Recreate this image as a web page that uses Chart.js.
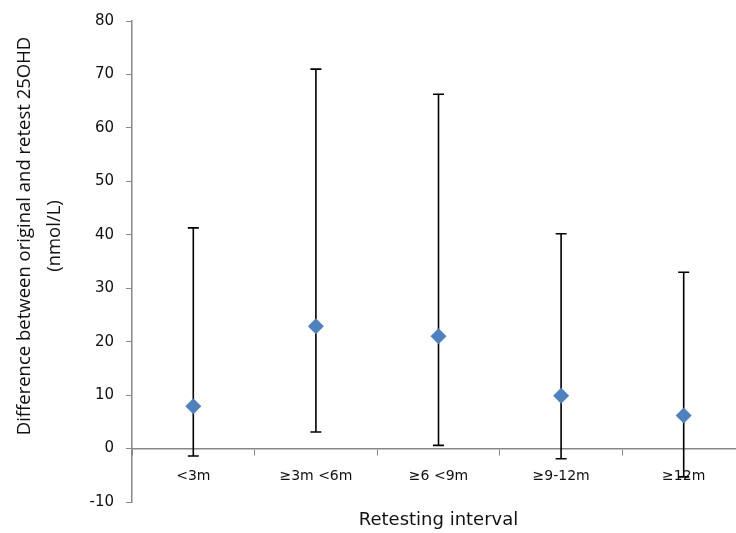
<!DOCTYPE html>
<html>
<head>
<meta charset="utf-8">
<script src="https://cdn.jsdelivr.net/npm/chart.js@4.4.0/dist/chart.umd.min.js"></script>
<style>
  html, body { margin: 0; padding: 0; background: #fff; overflow: hidden; }
  #contenedor { width: 760px; height: 533px; }
</style>
</head>
<body>
<div id="contenedor"><canvas id="grafico" width="760" height="533"></canvas></div>
<script>
const intervalos = ['<3m', '≥3m <6m', '≥6 <9m', '≥9-12m', '≥12m'];
const diferencias = [7.9, 22.9, 21.0, 9.9, 6.2];
const limiteSuperior = [41.3, 71.0, 66.3, 40.2, 33.0];
const limiteInferior = [-1.4, 3.1, 0.6, -1.9, -5.3];
const ejeYMin = -10;
const ejeYMax = 80;
const ejeYPaso = 10;
const tituloY = ['Difference between original and retest 25OHD', '(nmol/L)'];
const tituloX = 'Retesting interval';

// dibuja las barras de error con las escalas del grafico
const barrasError = {
    id: 'barrasError',
    beforeDatasetsDraw(chart) {
        const ctx = chart.ctx;
        const x = chart.scales.x;
        const y = chart.scales.y;
        ctx.save();
        ctx.strokeStyle = '#000';
        ctx.lineWidth = 1.6;
        for (let i = 0; i < intervalos.length; i++) {
            const px = x.getPixelForValue(i);
            const arriba = y.getPixelForValue(limiteSuperior[i]);
            const abajo = y.getPixelForValue(limiteInferior[i]);
            ctx.beginPath();
            ctx.moveTo(px, arriba);
            ctx.lineTo(px, abajo);
            ctx.moveTo(px - 5.5, arriba);
            ctx.lineTo(px + 5.5, arriba);
            ctx.moveTo(px - 5.5, abajo);
            ctx.lineTo(px + 5.5, abajo);
            ctx.stroke();
        }
        ctx.restore();
    }
};

// titulo del eje Y, un poco mas arriba que el centro del eje (como en Excel)
const tituloEjeY = {
    id: 'tituloEjeY',
    afterDraw(chart) {
        const ctx = chart.ctx;
        ctx.save();
        ctx.fillStyle = '#111';
        ctx.font = '18.5px "Open Sans"';
        ctx.textAlign = 'center';
        ctx.textBaseline = 'middle';
        ctx.translate(25, 236);
        ctx.rotate(-Math.PI / 2);
        for (let i = 0; i < tituloY.length; i++) {
            ctx.fillText(tituloY[i], 0, i * 30);
        }
        ctx.restore();
    }
};

const ctx = document.getElementById('grafico').getContext('2d');
new Chart(ctx, {
    type: 'line',
    data: {
        labels: intervalos,
        datasets: [{
            data: diferencias,
            showLine: false,
            pointStyle: 'rectRot',
            pointRadius: 8,
            pointBackgroundColor: '#4F81BD',
            pointBorderColor: '#4F81BD',
            pointBorderWidth: 0
        }]
    },
    options: {
        responsive: false,
        animation: false,
        layout: { padding: { top: 14, right: 15, left: 0, bottom: 0 } },
        plugins: {
            legend: { display: false },
            tooltip: { enabled: false }
        },
        scales: {
            x: {
                position: { y: 0 },
                offset: true,
                grid: { display: true, drawOnChartArea: false, offset: true, tickLength: 6, color: '#888' },
                border: { color: '#888', width: 1.5 },
                ticks: {
                    color: '#111',
                    padding: 13,
                    maxRotation: 0,
                    font: { family: 'DejaVu Sans', size: 14 }
                }
            },
            xTitulo: {
                type: 'category',
                labels: intervalos,
                position: 'bottom',
                afterFit(escala) { escala.height = 31; },
                grid: { display: false },
                border: { display: false },
                ticks: { display: false },
                title: {
                    display: true,
                    text: tituloX,
                    color: '#111',
                    font: { family: 'DejaVu Sans', size: 18 },
                    padding: { top: 7, bottom: 2 }
                }
            },
            y: {
                min: ejeYMin,
                max: ejeYMax,
                afterFit(escala) { escala.width = 132; },
                grid: { display: true, drawOnChartArea: false, tickLength: 6, color: '#888' },
                border: { color: '#888', width: 1.5 },
                ticks: {
                    stepSize: ejeYPaso,
                    color: '#111',
                    padding: 12,
                    font: { family: 'DejaVu Sans', size: 15 }
                }
            }
        }
    },
    plugins: [barrasError, tituloEjeY]
});
</script>
</body>
</html>
